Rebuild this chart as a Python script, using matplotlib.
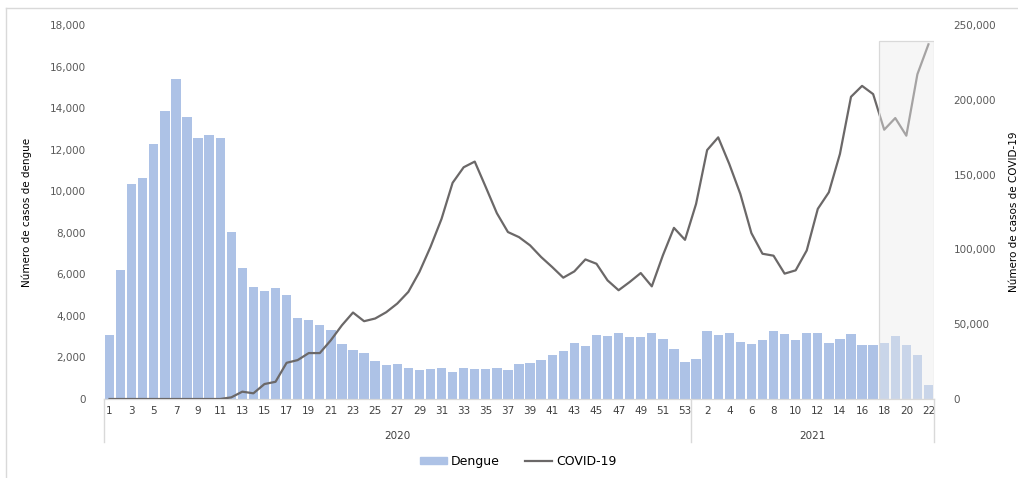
import matplotlib
matplotlib.use('Agg')
from matplotlib import pyplot as plt
from matplotlib.patches import Rectangle
from matplotlib.lines import Line2D
from matplotlib.ticker import FuncFormatter
import matplotlib.transforms as mtransforms

# semanas epidemiologicas 2020 (1-53) y 2021 (1-22)
weeks_2020 = list(range(1, 54))
weeks_2021 = list(range(1, 23))
years = ['2020', '2021']

dengue_2020 = [3070, 6190, 10350, 10660, 12290, 13860, 15390, 13580, 12540, 12690,
               12580, 8060, 6290, 5380, 5190, 5360, 4990, 3890, 3780, 3540,
               3310, 2640, 2350, 2190, 1820, 1630, 1680, 1470, 1410, 1440,
               1490, 1300, 1470, 1420, 1440, 1470, 1380, 1680, 1730, 1890,
               2130, 2300, 2700, 2560, 3070, 3020, 3170, 2980, 2990, 3170,
               2880, 2420, 1800]
dengue_2021 = [1940, 3260, 3100, 3200, 2740, 2640, 2860, 3250, 3150, 2830,
               3200, 3200, 2690, 2910, 3120, 2610, 2620, 2700, 3020, 2610,
               2110, 660]

covid_2020 = [0, 0, 0, 0, 0, 0, 0, 0, 0, 0,
              0, 1100, 4900, 3800, 10000, 11500, 24200, 26000, 30700, 30700,
              39300, 49300, 57800, 52000, 53800, 58000, 63800, 71600, 84900, 101600,
              120400, 144500, 154900, 158700, 141600, 124200, 111600, 108200, 102700, 94900,
              88200, 81100, 85300, 93300, 90400, 79300, 72700, 78200, 84200, 75300,
              96000, 114400, 106400]
covid_2021 = [130400, 166400, 174900, 157100, 137100, 110900, 97100, 95800, 83800, 86000,
              99300, 127100, 138200, 163800, 202000, 209300, 203800, 180000, 187800, 176000,
              217100, 237100]

dengue = dengue_2020 + dengue_2021
covid = covid_2020 + covid_2021
labels = [str(w) for w in weeks_2020] + [str(w) for w in weeks_2021]
n = len(labels)
x = list(range(n))

fig = plt.figure(figsize=(10.18, 4.78), dpi=100)
ax = fig.add_axes([104/1018, 79/478, 830/1018, 374/478])
ax2 = ax.twinx()

ax.bar(x, dengue, width=0.84, color='#adc2e6', zorder=2)
ax2.plot(x, covid, color='#6b6868', lw=1.6, zorder=3)

ax.set_xlim(-0.5, n - 0.5)
ax.set_ylim(0, 18000)
ax2.set_ylim(0, 250000)
ax.set_yticks(range(0, 18001, 2000))
ax2.set_yticks(range(0, 250001, 50000))
fmt = FuncFormatter(lambda v, p: '{:,.0f}'.format(v))
ax.yaxis.set_major_formatter(fmt)
ax2.yaxis.set_major_formatter(fmt)

ax.set_xticks(x[::2])
ax.set_xticklabels(labels[::2])
ax.tick_params(axis='x', length=0, pad=5, labelsize=7.5, labelcolor='#404040')
ax.tick_params(axis='y', length=0, pad=13, labelsize=7.5, labelcolor='#595959')
ax2.tick_params(axis='y', length=0, pad=14, labelsize=7.5, labelcolor='#595959')

for a in (ax, ax2):
    for s in ['top', 'left', 'right']:
        a.spines[s].set_visible(False)
    a.spines['bottom'].set_color('#d9d9d9')

ax.set_ylabel('Número de casos de dengue', fontsize=7.5)
ax2.set_ylabel('Número de casos de COVID-19', fontsize=7.5)
ax.yaxis.set_label_coords(-0.087, 0.5)
ax2.yaxis.set_label_coords(1.09, 0.5)

# etiquetas de año y separadores
trans = mtransforms.blended_transform_factory(ax.transData, ax.transAxes)
for xb in [-0.5, len(weeks_2020) - 0.5, n - 0.5]:
    ax.add_line(Line2D([xb, xb], [0, -0.115], transform=trans, color='#d9d9d9',
                       lw=1, clip_on=False))
ax.text((len(weeks_2020) - 1) / 2, -0.099, years[0], transform=trans,
        ha='center', va='center', fontsize=7.5, color='#404040')
ax.text(len(weeks_2020) + (len(weeks_2021) - 1) / 2, -0.099, years[1], transform=trans,
        ha='center', va='center', fontsize=7.5, color='#404040')

# zona sombreada (semanas recientes)
trans2 = mtransforms.blended_transform_factory(ax2.transData, ax2.transAxes)
ax2.add_patch(Rectangle((n - 5.5, 0), 5, 0.957, transform=trans2,
                        facecolor='#ededed', alpha=0.45, edgecolor='none', zorder=10))
ax2.add_patch(Rectangle((n - 5.5, 0), 5, 0.957, transform=trans2,
                        facecolor='none', edgecolor='#d9d9d9', lw=0.9, zorder=11))

# borde del area del grafico
fig.add_artist(Line2D([6/1018, 6/1018], [0, 470/478], color='#d9d9d9', lw=1))
fig.add_artist(Line2D([6/1018, 1], [470/478, 470/478], color='#d9d9d9', lw=1))

handles = [Rectangle((0, 0), 1, 1, color='#adc2e6'),
           Line2D([0], [0], color='#6b6868', lw=1.6)]
fig.legend(handles, ['Dengue', 'COVID-19'], loc='center', bbox_to_anchor=(0.509, 0.034),
           ncol=2, frameon=False, fontsize=9, handlelength=2.2, handleheight=0.5,
           columnspacing=2.0, handletextpad=0.3)

fig.savefig('out.png', dpi=100)
